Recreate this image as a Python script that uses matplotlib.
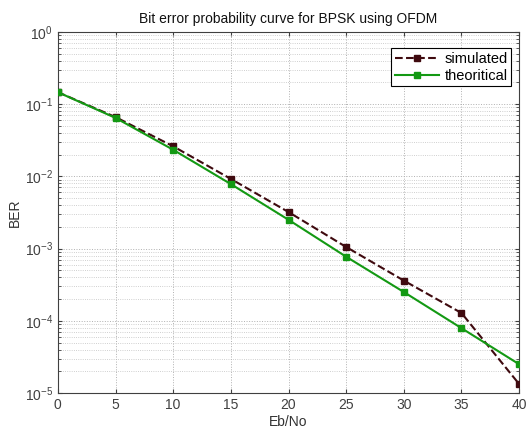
import matplotlib
matplotlib.use("Agg")
import matplotlib.pyplot as plt
from matplotlib.ticker import LogLocator, NullFormatter, FixedLocator

ebno = [0, 5, 10, 15, 20, 25, 30, 35, 40]
ber_sim = [0.146, 0.066, 0.026, 0.0092, 0.0032, 0.00105, 0.00036, 0.000128, 1.33e-5]
ber_theory = [0.146, 0.0643, 0.0233, 0.0078, 0.0025, 0.00077, 0.00025, 7.9e-5, 2.5e-5]
xticks = [0, 5, 10, 15, 20, 25, 30, 35, 40]

plt.rcParams['font.family'] = ['Liberation Sans', 'DejaVu Sans']

fig = plt.figure(figsize=(5.26, 4.30), dpi=100)
ax = fig.add_axes([0.110, 0.086, 0.877, 0.840])

ax.semilogy(ebno, ber_sim, color='#3f0a0f', linestyle='--', linewidth=1.5,
            marker='s', markersize=4, markerfacecolor='#3f0a0f', label='simulated', zorder=3)
ax.semilogy(ebno, ber_theory, color='#139913', linestyle='-', linewidth=1.5,
            marker='s', markersize=4, markerfacecolor='#139913', label='theoritical', zorder=3)

ax.set_xlim(0, 40)
ax.set_ylim(1e-5, 1e0)
ax.xaxis.set_major_locator(FixedLocator(xticks))
ax.yaxis.set_major_locator(LogLocator(base=10, numticks=10))
ax.yaxis.set_minor_locator(LogLocator(base=10, subs=range(2, 10), numticks=20))
ax.yaxis.set_minor_formatter(NullFormatter())

ax.grid(True, which='major', color='#b0b0b0', linestyle=':', linewidth=0.7)
ax.grid(True, which='minor', axis='y', color='#c0c0c0', linestyle=':', linewidth=0.6)

ax.tick_params(axis='both', which='both', direction='in', top=True, right=True,
               labelsize=10, colors='#404040', length=3)
ax.tick_params(axis='y', which='minor', length=2)
for s in ax.spines.values():
    s.set_color('#404040')
    s.set_linewidth(0.8)

ax.set_xlabel('Eb/No', fontsize=10, color='#333333', labelpad=2)
ax.set_ylabel('BER', fontsize=10, color='#333333', labelpad=2)
ax.set_title('Bit error probability curve for BPSK using OFDM', fontsize=10, color='#111111', pad=6)

leg = ax.legend(loc='upper right', fontsize=10.5, frameon=True, fancybox=False,
                edgecolor='black', framealpha=1, borderpad=0.25, labelspacing=0.2,
                handlelength=3.0, handletextpad=0.4, borderaxespad=0.0,
                bbox_to_anchor=(0.983, 0.955))
leg.get_frame().set_linewidth(0.8)

fig.savefig('out.png', dpi=100)
